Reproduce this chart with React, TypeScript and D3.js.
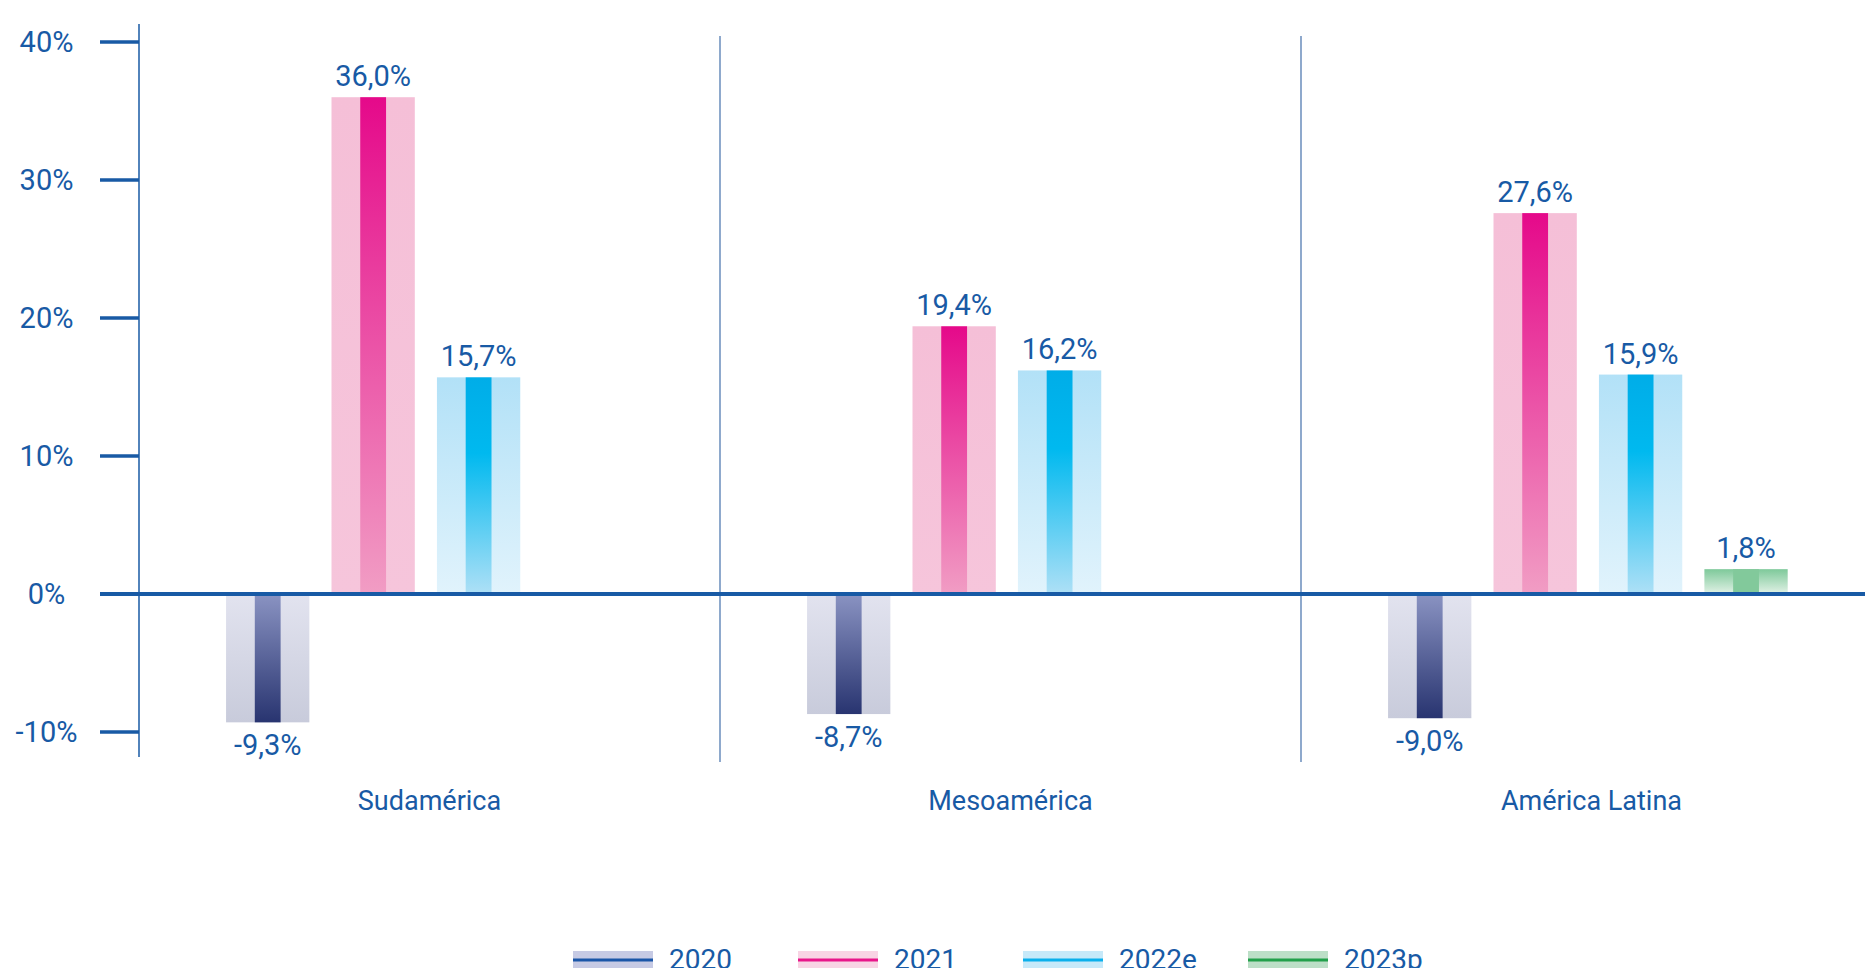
import React from "react";
import * as d3 from "d3";

const categories = ["Sudamérica", "Mesoamérica", "América Latina"];
const seriesNames = ["2020", "2021", "2022e", "2023p"];
const values2020 = [-9.3, -8.7, -9.0];
const values2021 = [36.0, 19.4, 27.6];
const values2022e = [15.7, 16.2, 15.9];
const values2023p: (number | null)[] = [null, null, 1.8];
const yTicks = [-10, 0, 10, 20, 30, 40];

const seriesValues: Record<string, (number | null)[]> = {
  "2020": values2020,
  "2021": values2021,
  "2022e": values2022e,
  "2023p": values2023p,
};

// styles
const W = 1865;
const H = 968;
const BLUE = "#185aa5";
const FONT = "Roboto, 'Noto Sans', sans-serif";

const seriesStyle: Record<string, any> = {
  "2020": {
    outerValue: "#c8cbdb", outerZero: "#e2e3ef",
    innerStops: [["0", "#283470"], ["1", "#8a93c2"]],
    swatch: "#c6cae4", line: "#1a56a8",
  },
  "2021": {
    outerValue: "#f5bfd7", outerZero: "#f6c5db",
    innerStops: [["0", "#e5098a"], ["1", "#f19dc4"]],
    swatch: "#f8d4e4", line: "#e8168a",
  },
  "2022e": {
    outerValue: "#b2e1f7", outerZero: "#e1f3fc",
    innerStops: [["0", "#00ade8"], ["0.35", "#00b9ef"], ["1", "#aee0f6"]],
    swatch: "#c6e9f9", line: "#0ab0ec",
  },
  "2023p": {
    outerValue: "#7ec99a", outerZero: "#e3f2e7",
    innerStops: [["0", "#82c99b"], ["1", "#82c99b"]],
    swatch: "#bcdfc7", line: "#22a04b",
  },
};

const locale = d3.formatLocale({
  decimal: ",",
  thousands: ".",
  grouping: [3],
  currency: ["", "€"],
  minus: "-",
} as any);
const fmtValue = (v: number) => locale.format(".1f")(v) + "%";
const fmtTick = (v: number) => locale.format("d")(v) + "%";

export default function App() {
  const axisX = 139;
  const groupStep = 581;
  const x0 = d3
    .scaleBand<string>()
    .domain(categories)
    .range([axisX, axisX + groupStep * categories.length]);
  const x1 = d3
    .scaleBand<string>()
    .domain(seriesNames)
    .range([0, x0.bandwidth()])
    .paddingInner(0.21)
    .paddingOuter(0.86)
    .align(0.48);
  const y = d3.scaleLinear().domain([-10, 40]).range([732, 42]);
  const bw = x1.bandwidth();
  const innerW = bw * 0.31;

  const legendX = d3.scaleBand<string>().domain(seriesNames).range([573, 573 + 225 * 4]);

  const defs: JSX.Element[] = [];
  seriesNames.forEach((s) => {
    const st = seriesStyle[s];
    ["pos", "neg"].forEach((sign) => {
      const y1 = sign === "pos" ? "0" : "1";
      const y2 = sign === "pos" ? "1" : "0";
      defs.push(
        <linearGradient key={`o-${s}-${sign}`} id={`o-${s}-${sign}`} x1="0" x2="0" y1={y1} y2={y2}>
          <stop offset="0" stopColor={st.outerValue} />
          <stop offset="1" stopColor={st.outerZero} />
        </linearGradient>
      );
      defs.push(
        <linearGradient key={`i-${s}-${sign}`} id={`i-${s}-${sign}`} x1="0" x2="0" y1={y1} y2={y2}>
          {st.innerStops.map((p: string[], i: number) => (
            <stop key={i} offset={p[0]} stopColor={p[1]} />
          ))}
        </linearGradient>
      );
    });
  });

  const bars: JSX.Element[] = [];
  const labels: JSX.Element[] = [];
  categories.forEach((c, ci) => {
    seriesNames.forEach((s) => {
      const v = seriesValues[s][ci];
      if (v === null || v === undefined) return;
      const sign = v >= 0 ? "pos" : "neg";
      const xb = (x0(c) as number) + (x1(s) as number);
      const yTop = Math.min(y(v), y(0));
      const h = Math.abs(y(v) - y(0));
      const cx = xb + bw / 2;
      bars.push(
        <g key={`${c}-${s}`}>
          <rect x={xb} y={yTop} width={bw} height={h} fill={`url(#o-${s}-${sign})`} />
          <rect x={cx - innerW / 2} y={yTop} width={innerW} height={h} fill={`url(#i-${s}-${sign})`} />
        </g>
      );
      labels.push(
        <text
          key={`l-${c}-${s}`}
          x={cx}
          y={v >= 0 ? y(v) - 11 : y(v) + 33}
          textAnchor="middle"
          fontSize={29}
          fill={BLUE}
          fontFamily={FONT}
        >
          {fmtValue(v)}
        </text>
      );
    });
  });

  return (
    <svg
      width={W}
      height={H}
      style={{ position: "absolute", left: 0, top: 0, display: "block", background: "#fff" }}
    >
      <defs>{defs}</defs>
      {/* separators */}
      {categories.slice(1).map((c) => (
        <line
          key={`sep-${c}`}
          x1={x0(c) as number}
          x2={x0(c) as number}
          y1={36}
          y2={762}
          stroke="#4470ab"
          strokeWidth={1.2}
        />
      ))}
      {/* y axis */}
      <line x1={axisX} x2={axisX} y1={24} y2={757} stroke={BLUE} strokeWidth={1.5} />
      {yTicks.map((t) => (
        <g key={`t-${t}`}>
          {t !== 0 && (
            <line x1={100} x2={axisX} y1={y(t)} y2={y(t)} stroke={BLUE} strokeWidth={3.5} />
          )}
          <text
            x={46.5}
            y={y(t)}
            dy="0.36em"
            textAnchor="middle"
            fontSize={29}
            fill={BLUE}
            fontFamily={FONT}
          >
            {fmtTick(t)}
          </text>
        </g>
      ))}
      {bars}
      {/* zero line */}
      <line x1={100} x2={W} y1={y(0)} y2={y(0)} stroke={BLUE} strokeWidth={4} />
      {labels}
      {/* category labels */}
      {categories.map((c) => (
        <text
          key={`c-${c}`}
          x={(x0(c) as number) + x0.bandwidth() / 2}
          y={810}
          textAnchor="middle"
          fontSize={27}
          fill={BLUE}
          fontFamily={FONT}
        >
          {c}
        </text>
      ))}
      {/* legend */}
      {seriesNames.map((s) => {
        const lx = legendX(s) as number;
        const st = seriesStyle[s];
        return (
          <g key={`lg-${s}`}>
            <rect x={lx} y={951} width={80} height={18} fill={st.swatch} />
            <line x1={lx} x2={lx + 80} y1={960} y2={960} stroke={st.line} strokeWidth={3} />
            <text x={lx + 96} y={969} fontSize={28} fill={BLUE} fontFamily={FONT}>
              {s}
            </text>
          </g>
        );
      })}
    </svg>
  );
}
